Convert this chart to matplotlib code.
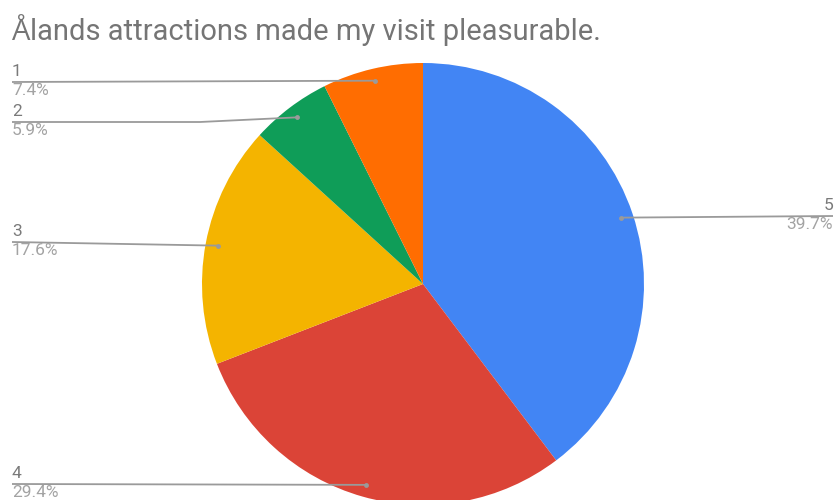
import matplotlib.pyplot as plt
import numpy as np

plt.rcParams['font.family'] = ['Roboto', 'DejaVu Sans']

# survey answers, drawn clockwise from 12 o'clock
labels = ['5', '4', '3', '2', '1']
counts = [27, 20, 12, 4, 5]
colors = ['#4285F4', '#DB4437', '#F4B400', '#0F9D58', '#FF6D01']

# where each label row sits (pixel rows from the top) and which side it is on
label_rows = [216, 484, 242, 122, 82]
label_side = ['right', 'left', 'left', 'left', 'left']
elbow_x = [None, None, None, 200, None]

title_first = 'Å'
title_rest = 'lands attractions made my visit pleasurable.'

W, H = 837, 500
cx, cy, R = 423, H - 284, 221

fig = plt.figure(figsize=(W / 100, H / 100), dpi=100)
ax = fig.add_axes([0, 0, 1, 1])

wedges, _ = ax.pie(counts, colors=colors, startangle=90, counterclock=False,
                   center=(cx, cy), radius=R, frame=True,
                   wedgeprops=dict(linewidth=0))
ax.set_xlim(0, W)
ax.set_ylim(0, H)
ax.axis('off')

total = sum(counts)
line_col = '#9a9a9a'
for w, lab, n, row, side, ex in zip(wedges, labels, counts, label_rows, label_side, elbow_x):
    mid = np.deg2rad((w.theta1 + w.theta2) / 2)
    px = cx + 0.945 * R * np.cos(mid)
    py = cy + 0.945 * R * np.sin(mid)
    ly = H - row
    pct = f'{100 * n / total:.1f}%'
    if side == 'left':
        xs = [px] + ([ex] if ex else []) + [12]
        ys = [py] + ([ly] if ex else []) + [ly]
        tx, ha = 12, 'left'
    else:
        xs = [px, W - 4]
        ys = [py, ly]
        tx, ha = W - 4, 'right'
    ax.plot(xs, ys, color=line_col, lw=1.3, solid_capstyle='butt', zorder=3)
    ax.plot(px, py, 'o', ms=3.5, color=line_col, mec='none', zorder=4)
    ax.text(tx, ly + 3, lab, ha=ha, va='bottom', fontsize=12.5, color='#7a7a7a')
    ax.text(tx, ly - 1, pct, ha=ha, va='top', fontsize=12.5, color='#a3a3a3')

# the ring of Å comes out wrong in Roboto here, so that letter uses Open Sans
ty = 1 - 40 / H
t0 = fig.text(12 / W, ty, title_first, ha='left', va='baseline',
              fontsize=21, color='#757575', family='Open Sans')
fig.canvas.draw()
bb = t0.get_window_extent()
fig.text(bb.x1 / W - 0.5 / W, ty, title_rest, ha='left', va='baseline',
         fontsize=21, color='#757575')

fig.savefig('out.png', dpi=100, facecolor='white')
